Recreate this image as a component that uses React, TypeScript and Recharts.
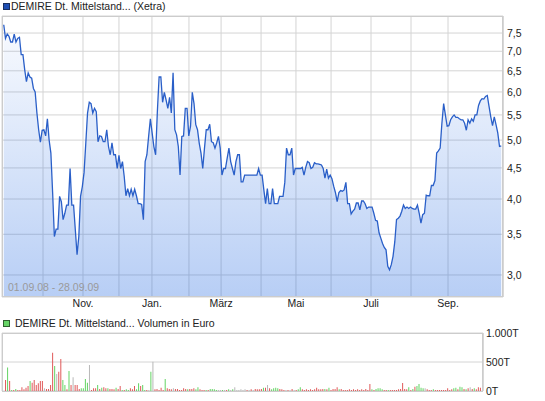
import { AreaChart, Area, BarChart, Bar, Cell, XAxis, YAxis, CartesianGrid } from "recharts";

// daily closing prices (EUR), 01.09.08 - 28.09.09
const prices = [
  7.74, 7.35, 7.47, 7.41, 7.25, 7.25, 7.47, 7.25, 7.35, 7.38,
  6.91, 6.91, 6.53, 6.24, 6.45, 6.35, 6.32, 6.08, 6.0, 5.54,
  5.2, 4.96, 5.19, 5.2, 5.08, 5.42, 5.0, 4.76, 4.1, 3.47,
  3.57, 3.57, 4.04, 3.96, 3.7, 3.79, 3.91, 3.91, 4.49, 3.91,
  3.91, 3.56, 3.24, 3.47, 4.04, 4.19, 4.42, 4.94, 5.54, 5.77,
  5.74, 5.54, 5.64, 5.57, 4.97, 5.08,
  5.07, 4.97, 4.97, 5.2, 4.88, 4.73, 4.95, 4.73, 4.73, 4.49,
  4.72, 4.49, 4.61, 4.36, 4.05, 4.16, 4.05, 4.15, 4.05, 4.15,
  4.05, 3.93, 3.93, 3.92, 3.7, 4.61, 4.73, 5.07, 5.42, 5.14,
  4.88, 4.73, 5.57, 6.35, 6.35, 5.77, 5.99, 5.82, 5.64, 5.88,
  5.54, 6.45, 5.2, 5.1, 4.88, 4.38, 5.07, 5.08, 5.64, 5.64,
  5.08, 5.27, 5.99, 5.74, 5.3, 5.2, 4.94,
  4.76, 4.49, 4.85, 5.2, 5.2, 5.31, 4.97, 4.95, 4.85, 4.95,
  5.07, 4.85, 4.38, 4.49, 4.49, 4.67, 4.85, 4.61, 4.49, 4.38,
  4.61, 4.73, 4.73, 4.27, 4.27, 4.38, 4.38, 4.38, 4.38, 4.38,
  4.38, 4.38, 4.38, 4.49, 4.38, 4.38, 4.14, 3.93, 4.16, 3.93,
  3.93, 4.16, 3.93, 3.93, 3.93, 4.04, 4.04, 4.04, 4.26, 4.85,
  4.73, 4.73, 4.85, 4.38, 4.49, 4.49, 4.49,
  4.49, 4.51, 4.38, 4.51, 4.61, 4.59, 4.49, 4.51, 4.59, 4.57,
  4.57, 4.56, 4.55, 4.49, 4.33, 4.48, 4.33, 4.38, 4.32, 4.2,
  4.1, 3.96, 4.1, 4.13, 4.12, 4.14, 4.26, 3.93, 3.93, 3.78,
  3.82, 3.85, 3.94, 3.94, 3.84, 3.97, 3.97, 3.93, 3.86, 3.88,
  3.88, 3.88, 3.79, 3.69, 3.68, 3.52, 3.45, 3.38, 3.33, 3.3,
  3.1, 3.06, 3.12, 3.22, 3.4, 3.7, 3.72,
  3.75, 3.82, 3.91, 3.86, 3.88, 3.86, 3.88, 3.86, 3.85, 3.85,
  3.91, 3.79, 3.65, 3.77, 3.79, 4.06, 4.05, 4.05, 4.21, 4.21,
  4.29, 4.76, 4.8, 4.85, 5.33, 5.74, 5.5, 5.27, 5.28, 5.4,
  5.46, 5.5, 5.45, 5.45, 5.42, 5.4, 5.4, 5.33, 5.19, 5.4,
  5.33, 5.42, 5.37, 5.5, 5.5, 5.7, 5.8, 5.85, 5.84, 5.9,
  5.92, 5.68, 5.46, 5.28, 5.46, 5.3, 5.14, 4.88, 4.89,
];

// volume in thousand EUR
const volumes = [
  189, 407, 172, 17, 17, 34, 17, 17, 63, 29,
  57, 86, 172, 143, 189, 103, 132, 172, 172, 46,
  34, 34, 103, 659, 430, 292, 332, 550, 189, 103,
  29, 344, 103, 235, 103, 103, 34, 46, 46, 206,
  143, 447, 17, 46, 46, 103, 34, 57, 63, 46,
  46, 34, 34, 29, 57, 34, 86, 17, 17, 29,
  17, 46, 29, 86, 29, 132, 86, 103, 17, 17,
  17, 332, 504, 29, 34, 17, 57, 17, 206, 46,
  34, 29, 46, 34, 34, 17, 17, 46, 34, 29,
  34, 34, 46, 29, 63, 29, 17, 17, 17, 17,
  34, 34, 29, 17, 17, 17, 17, 17, 17, 29,
  17, 29, 63, 17, 17, 29, 17, 29, 17, 17,
  29, 17, 34, 29, 29, 34, 57, 57, 103, 46,
  29, 46, 57, 46, 34, 29, 17, 17, 17, 17,
  34, 17, 17, 29, 63, 29, 17, 29, 17, 29,
  17, 29, 57, 29, 29, 34, 34, 29, 57, 17,
  34, 34, 63, 29, 34, 17, 17, 17, 29, 17,
  29, 17, 29, 17, 29, 17, 34, 17, 120, 29,
  17, 34, 46, 46, 29, 17, 17, 17, 17, 17,
  17, 17, 29, 34, 138, 34, 29, 63, 17, 34,
  75, 86, 120, 57, 46, 46, 29, 17, 17, 29,
  17, 17, 17, 17, 17, 17, 46, 17, 29, 46,
  57, 29, 75, 63, 34, 29, 46, 63, 34, 46,
  29, 63, 57,
];

// 1 = up day, -1 = down day, 0 = unchanged
const volumeDir = [
  -1, 1, -1, 1, -1, 1, -1, -1, -1, -1,
  -1, -1, 1, -1, -1, -1, -1, -1, -1, 0,
  -1, -1, -1, -1, 1, 0, -1, -1, 1, 1,
  -1, 1, -1, 0, -1, -1, -1, 1, 1, 1,
  1, 0, -1, -1, -1, 1, -1, 1, -1, -1,
  1, -1, -1, -1, 1, -1, -1, 1, -1, 1,
  1, -1, -1, -1, 1, 1, -1, 1, 1, -1,
  0, 1, 0, -1, -1, -1, -1, -1, 1, -1,
  -1, -1, 0, -1, -1, -1, -1, -1, -1, 1,
  -1, -1, -1, 1, 1, -1, -1, -1, 1, -1,
  1, 1, 1, 1, 0, 0, 1, 0, -1, 1,
  0, 1, 0, 0, 0, 0, 0, 0, -1, 0,
  -1, 0, -1, -1, -1, -1, 1, -1, 0, -1,
  1, 1, 1, 1, -1, -1, -1, 0, -1, 0,
  -1, 0, -1, 1, 1, -1, -1, -1, -1, -1,
  -1, -1, -1, -1, -1, -1, 1, -1, 1, -1,
  -1, -1, -1, 1, -1, -1, -1, -1, -1, -1,
  -1, -1, -1, -1, -1, -1, -1, -1, -1, 1,
  -1, 1, 1, 1, 1, -1, -1, 1, -1, -1,
  -1, -1, -1, -1, -1, -1, -1, 1, -1, 1,
  -1, 1, 1, 1, 1, 0, -1, -1, -1, 1,
  -1, -1, -1, -1, -1, -1, -1, -1, -1, 1,
  1, -1, 1, 1, -1, 1, -1, 0, -1, 1,
  -1, -1, -1,
];

// month starts (in trading-day index), labels every second month
const monthTicks = [22.5, 45.4, 66.0, 84.9, 106.1, 124.5, 147.4, 167.4, 187.5, 210.4, 233.3, 254.5];
const volumeMonthTicks = [18.6, 38.1, 55.7, 71.8, 89.9, 105.5, 125.0, 142.1, 159.2, 178.8, 198.3, 216.4];
const monthLabels = ["", "Nov.", "", "Jan.", "", "März", "", "Mai", "", "Juli", "", "Sep."];
const priceTicks = [3, 3.5, 4, 4.5, 5, 5.5, 6, 6.5, 7, 7.5, 8];
const volumeTicks = [0, 500, 1000];

const priceData = prices.map((p, i) => ({ i, p }));
const volumeData = volumes.map((v, i) => ({ i, v, d: volumeDir[i] }));

const FONT = '"Liberation Sans", Arial, sans-serif';
const tickStyle = { fontSize: 10.5, fill: "#222", fontFamily: FONT };
const dirColor = (d: number) => (d > 0 ? "#62d462" : d < 0 ? "#e05858" : "#b8b8b8");

const App = () => {
  return (
    <div style={{ position: "absolute", left: 0, top: 0, width: 545, height: 401, fontFamily: FONT, background: "#fff" }}>
      <div style={{ position: "absolute", left: 3, top: 3, width: 5, height: 5, background: "#1f4fb4", border: "1px solid #1a2f60" }} />
      <div style={{ position: "absolute", left: 11, top: 0, fontSize: 10.5, lineHeight: "12px", color: "#222", whiteSpace: "nowrap" }}>
        DEMIRE Dt. Mittelstand... (Xetra)
      </div>

      <div style={{ position: "absolute", left: 0, top: 0 }}>
        <AreaChart width={545} height={315} data={priceData} margin={{ top: 16, right: 0, bottom: 0, left: 2 }}>
          <defs>
            <linearGradient id="priceFill" x1="0" y1="0" x2="0" y2="1">
              <stop offset="0%" stopColor="#1f66e0" stopOpacity={0.03} />
              <stop offset="100%" stopColor="#1f66e0" stopOpacity={0.32} />
            </linearGradient>
          </defs>
          <CartesianGrid stroke="#d4d4d4" />
          <XAxis
            dataKey="i"
            type="number"
            domain={[-1, 286]}
            ticks={monthTicks}
            interval={0}
            allowDataOverflow
            tickFormatter={(v) => monthLabels[monthTicks.indexOf(v)] ?? ""}
            axisLine={false}
            tickLine={false}
            tickSize={0}
            tickMargin={3}
            height={18}
            tick={tickStyle}
          />
          <YAxis
            orientation="right"
            scale="log"
            domain={[2.76, 8]}
            ticks={priceTicks}
            interval={0}
            allowDataOverflow
            tickFormatter={(v) => (v >= 8 ? "" : v.toFixed(1).replace(".", ","))}
            axisLine={{ stroke: "#c8c8c8" }}
            tickLine={false}
            tickSize={0}
            tickMargin={4}
            width={42}
            tick={tickStyle}
          />
          <Area
            type="linear"
            dataKey="p"
            stroke="#2a5fc8"
            strokeWidth={1.3}
            fill="url(#priceFill)"
            fillOpacity={1}
            baseValue={2.76}
            dot={false}
            activeDot={false}
            isAnimationActive={false}
          />
        </AreaChart>
      </div>
      <div style={{ position: "absolute", left: 2, top: 16, width: 501, height: 281, border: "1px solid #cccccc", boxSizing: "border-box", pointerEvents: "none" }} />
      <div style={{ position: "absolute", left: 8, top: 281, fontSize: 10.5, lineHeight: "12px", color: "#9a9a9a", whiteSpace: "nowrap" }}>
        01.09.08 - 28.09.09
      </div>

      <div style={{ position: "absolute", left: 3, top: 320, width: 5, height: 5, background: "#66d466", border: "1px solid #2f5f2f" }} />
      <div style={{ position: "absolute", left: 15, top: 317, fontSize: 10.5, lineHeight: "12px", color: "#222", whiteSpace: "nowrap" }}>
        DEMIRE Dt. Mittelstand... Volumen in Euro
      </div>

      <div style={{ position: "absolute", left: 0, top: 315 }}>
        <BarChart width={545} height={86} data={volumeData} margin={{ top: 18, right: 0, bottom: 10, left: 2 }}>
          <CartesianGrid stroke="#d4d4d4" />
          <XAxis
            dataKey="i"
            type="number"
            domain={[-1.5, 233.5]}
            ticks={volumeMonthTicks}
            interval={0}
            allowDataOverflow
            tick={false}
            axisLine={false}
            tickLine={false}
            height={0}
          />
          <YAxis
            orientation="right"
            domain={[0, 1000]}
            ticks={volumeTicks}
            interval={0}
            tickFormatter={(v) => `${v.toLocaleString("de-DE")}T`}
            axisLine={{ stroke: "#c8c8c8" }}
            tickLine={false}
            tickSize={0}
            tickMargin={3}
            width={62}
            tick={tickStyle}
          />
          <Bar dataKey="v" barSize={1} isAnimationActive={false}>
            {volumeData.map((e, k) => (
              <Cell key={`vol-${k}`} fill={dirColor(e.d)} />
            ))}
          </Bar>
        </BarChart>
      </div>
      <div style={{ position: "absolute", left: 2, top: 333, width: 481, height: 59, border: "1px solid #cccccc", boxSizing: "border-box", pointerEvents: "none" }} />
    </div>
  );
};

export default App;
